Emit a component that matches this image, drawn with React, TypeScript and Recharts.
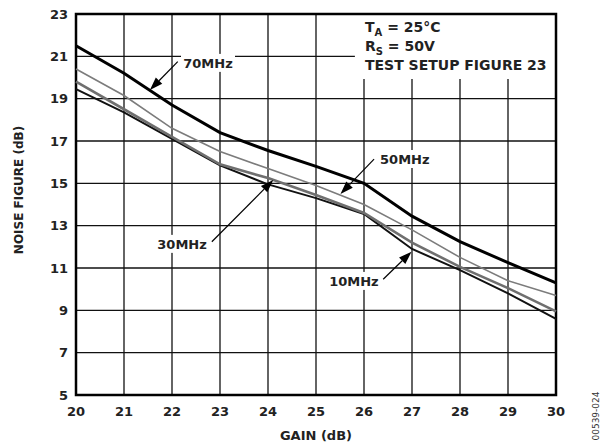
import React from "react";
import {
  LineChart,
  Line,
  XAxis,
  YAxis,
  CartesianGrid,
  ReferenceArea,
  ReferenceLine,
  ReferenceDot,
} from "recharts";

const FONT = "'DejaVu Sans', Verdana, sans-serif";

// gain in dB
const gain = [20, 21, 22, 23, 24, 25, 26, 27, 28, 29, 30];
// noise figure (dB) per frequency
const nf70 = [21.5, 20.2, 18.7, 17.4, 16.55, 15.8, 15.0, 13.45, 12.25, 11.25, 10.3];
const nf50 = [20.4, 19.15, 17.6, 16.5, 15.7, 14.9, 14.0, 12.8, 11.5, 10.4, 9.7];
const nf30 = [19.8, 18.5, 17.2, 15.9, 15.25, 14.45, 13.6, 12.2, 11.05, 10.05, 8.95];
const nf10 = [19.45, 18.35, 17.1, 15.85, 14.95, 14.3, 13.55, 11.9, 10.9, 9.8, 8.6];

const xTicks = [20, 21, 22, 23, 24, 25, 26, 27, 28, 29, 30];
const yTicks = [5, 7, 9, 11, 13, 15, 17, 19, 21, 23];

// callouts: label position, arrow start, arrow tip (data coords)
const callouts = [
  { text: "70MHz", lx: 22.75, ly: 20.69, from: [22.12, 20.75], to: [21.54, 19.41] },
  { text: "50MHz", lx: 26.85, ly: 16.15, from: [26.21, 16.14], to: [25.51, 14.5] },
  { text: "30MHz", lx: 22.21, ly: 12.14, from: [22.83, 12.24], to: [24.11, 15.16] },
  { text: "10MHz", lx: 25.79, ly: 10.39, from: [26.4, 10.47], to: [26.99, 11.77] },
];

const data = gain.map((g, i) => ({
  gain: g,
  f70: nf70[i],
  f50: nf50[i],
  f30: nf30[i],
  f10: nf10[i],
}));

const Arrow = (p: any) => {
  const { x1, y1, x2, y2 } = p;
  const dx = x2 - x1;
  const dy = y2 - y1;
  const len = Math.sqrt(dx * dx + dy * dy) || 1;
  const ux = dx / len;
  const uy = dy / len;
  const hl = 13;
  const hw = 4.5;
  const bx = x2 - ux * hl;
  const by = y2 - uy * hl;
  const pts = `${x2},${y2} ${bx - uy * hw},${by + ux * hw} ${bx + uy * hw},${by - ux * hw}`;
  return (
    <g>
      <line x1={x1} y1={y1} x2={bx} y2={by} stroke="#000" strokeWidth={1.2} />
      <polygon points={pts} fill="#000" />
    </g>
  );
};

const Tag = (text: string) => (p: any) => {
  const { cx, cy } = p;
  const w = text.length * 9.6;
  return (
    <g>
      <rect x={cx - w / 2 - 3} y={cy - 9} width={w + 6} height={18} fill="#fff" />
      <text
        x={cx}
        y={cy}
        dy="0.36em"
        textAnchor="middle"
        fontSize={13}
        fontWeight="bold"
        fontFamily={FONT}
        fill="#222"
      >
        {text}
      </text>
    </g>
  );
};

const Conditions = (p: any) => {
  const { cx, cy } = p;
  const common = { fontSize: 14, fontWeight: "bold", fontFamily: FONT, fill: "#222" } as any;
  return (
    <g>
      <text x={cx} y={cy} {...common}>
        T<tspan dy={4} fontSize={10}>A</tspan>
        <tspan dy={-4}> = 25°C</tspan>
      </text>
      <text x={cx} y={cy + 19} {...common}>
        R<tspan dy={4} fontSize={10}>S</tspan>
        <tspan dy={-4}> = 50V</tspan>
      </text>
      <text x={cx} y={cy + 38} {...common}>
        TEST SETUP FIGURE 23
      </text>
    </g>
  );
};

const tickStyle = { fontSize: 13, fontWeight: "bold", fontFamily: FONT, fill: "#222" };

export default function App() {
  return (
    <div style={{ position: "absolute", left: 0, top: 0, width: 600, height: 444, background: "#fff" }}>
      <LineChart width={600} height={444} data={data} margin={{ top: 14, right: 44, bottom: 0, left: 0 }}>
        <CartesianGrid stroke="#111" strokeWidth={1.3} />
        <XAxis
          dataKey="gain"
          type="number"
          domain={[20, 30]}
          ticks={xTicks}
          height={49}
          tickSize={0}
          tickMargin={12}
          axisLine={false}
          tickLine={false}
          tick={tickStyle}
          interval={0}
          label={{
            content: (lp: any) => {
              const vb = lp.viewBox;
              return (
                <g>
                  <text
                    x={vb.x + vb.width / 2}
                    y={440}
                    textAnchor="middle"
                    fontSize={13}
                    fontWeight="bold"
                    fontFamily={FONT}
                    fill="#222"
                  >
                    GAIN (dB)
                  </text>
                  <text
                    x={0}
                    y={0}
                    transform="translate(596,416) rotate(-90)"
                    textAnchor="middle"
                    dy="0.35em"
                    fontSize={9}
                    fontFamily={FONT}
                    fill="#333"
                  >
                    00539-024
                  </text>
                </g>
              );
            },
          }}
        />
        <YAxis
          type="number"
          domain={[5, 23]}
          ticks={yTicks}
          width={76}
          tickSize={0}
          tickMargin={8}
          axisLine={false}
          tickLine={false}
          tick={tickStyle}
          interval={0}
          label={{
            content: () => (
              <text
                x={0}
                y={0}
                transform="translate(23,190) rotate(-90)"
                textAnchor="middle"
                fontSize={12}
                fontWeight="bold"
                fontFamily={FONT}
                fill="#222"
              >
                NOISE FIGURE (dB)
              </text>
            ),
          }}
        />
        <ReferenceArea x1={25.81} x2={30} y1={19.93} y2={23} fill="#fff" fillOpacity={1} stroke="none" />
        <ReferenceArea x1={20} x2={30} y1={5} y2={23} fill="none" stroke="#000" strokeWidth={2.5} />
        <Line dataKey="f10" type="linear" stroke="#111" strokeWidth={2} dot={false} isAnimationActive={false} />
        <Line dataKey="f30" type="linear" stroke="#6f6f6f" strokeWidth={2.6} dot={false} isAnimationActive={false} />
        <Line dataKey="f50" type="linear" stroke="#7c7c7c" strokeWidth={1.6} dot={false} isAnimationActive={false} />
        <Line dataKey="f70" type="linear" stroke="#000" strokeWidth={3} dot={false} isAnimationActive={false} />
        {callouts.map((c) => (
          <ReferenceLine
            key={c.text + "a"}
            segment={[
              { x: c.from[0], y: c.from[1] },
              { x: c.to[0], y: c.to[1] },
            ]}
            shape={Arrow}
          />
        ))}
        {callouts.map((c) => (
          <ReferenceDot key={c.text} x={c.lx} y={c.ly} r={1} shape={Tag(c.text)} />
        ))}
        <ReferenceDot x={26.02} y={22.15} r={1} shape={Conditions} />
      </LineChart>
    </div>
  );
}
